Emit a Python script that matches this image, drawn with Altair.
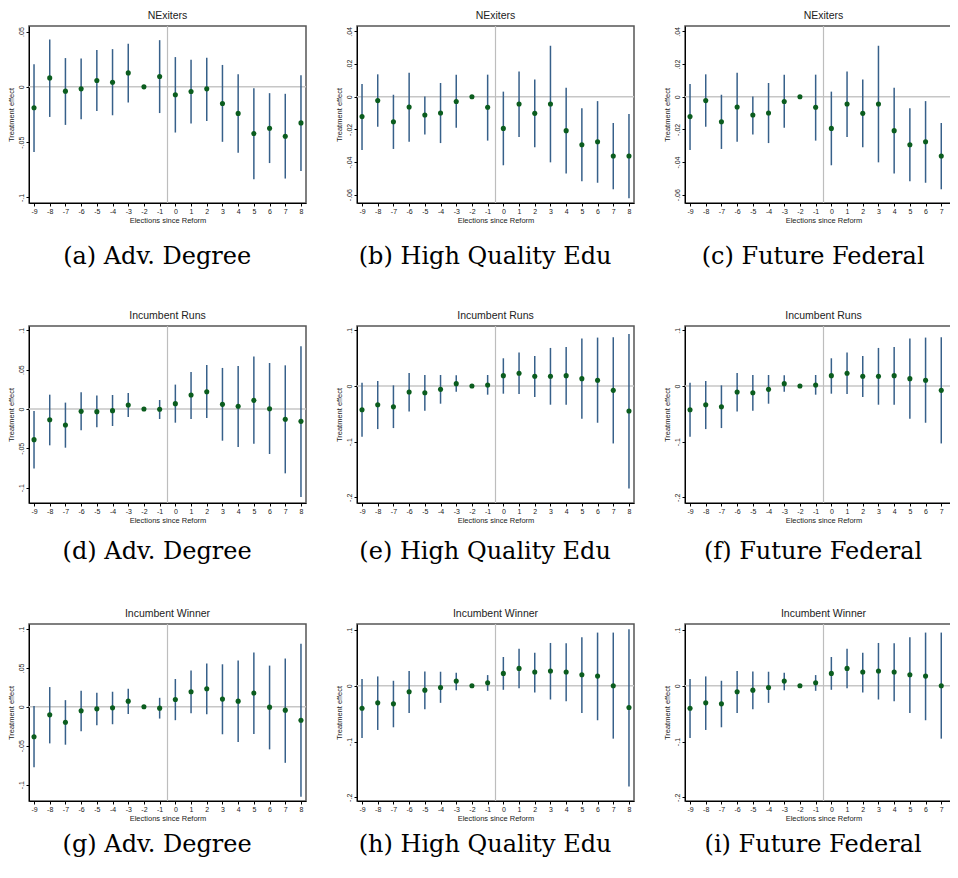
import altair as alt
import pandas as pd

elections = list(range(-9, 9))

row_titles = ["NExiters", "Incumbent Runs", "Incumbent Winner"]
captions = [
    "(a) Adv. Degree", "(b) High Quality Edu", "(c) Future Federal",
    "(d) Adv. Degree", "(e) High Quality Edu", "(f) Future Federal",
    "(g) Adv. Degree", "(h) High Quality Edu", "(i) Future Federal",
]

# NExiters - Adv. Degree
nex_adv_est = [-0.0189, 0.0081, -0.0039, -0.0018, 0.0057, 0.0042, 0.0126, 0.0, 0.0093,
               -0.0072, -0.0042, -0.0018, -0.015, -0.024, -0.0422, -0.0374, -0.0446, -0.0326]
nex_adv_lo = [-0.059, -0.0272, -0.0344, -0.0293, -0.0219, -0.0257, -0.0141, None, -0.0237,
              -0.0413, -0.0332, -0.0308, -0.0497, -0.0596, -0.0835, -0.0689, -0.0829, -0.076]
nex_adv_hi = [0.0204, 0.0428, 0.026, 0.0257, 0.0332, 0.0341, 0.0389, None, 0.0422,
              0.0269, 0.0246, 0.0263, 0.0198, 0.0114, -0.0012, -0.0057, -0.0063, 0.0105]

# NExiters - High Quality Edu / Future Federal
nex_hq_est = [-0.0122, -0.0024, -0.0153, -0.0063, -0.0112, -0.01, -0.0029, 0.0, -0.0065,
              -0.0194, -0.0045, -0.0102, -0.0045, -0.0208, -0.0294, -0.0276, -0.0363, -0.0363]
nex_hq_lo = [-0.0327, -0.0184, -0.032, -0.0276, -0.0231, -0.0284, -0.019, None, -0.0269,
             -0.042, -0.0247, -0.031, -0.0402, -0.0471, -0.0518, -0.0527, -0.0567, -0.0622]
nex_hq_hi = [0.0078, 0.0137, 0.0012, 0.0147, 0.0002, 0.0084, 0.0135, None, 0.0135,
             0.0031, 0.0155, 0.0106, 0.0312, 0.0055, -0.0071, -0.0027, -0.0161, -0.0106]

# Incumbent Runs - Adv. Degree
runs_adv_est = [-0.039, -0.0136, -0.0203, -0.003, -0.0034, -0.0021, 0.0051, 0.0, -0.0004,
                0.0068, 0.0178, 0.022, 0.0059, 0.0034, 0.011, 0.0004, -0.0131, -0.0157]
runs_adv_lo = [-0.0755, -0.0462, -0.0492, -0.0271, -0.0233, -0.0216, -0.0102, None, -0.0127,
               -0.0174, -0.0127, -0.0114, -0.0403, -0.0483, -0.0441, -0.0572, -0.0818, -0.1119]
runs_adv_hi = [-0.0025, 0.0182, 0.0081, 0.0212, 0.017, 0.0178, 0.0203, None, 0.0114,
               0.031, 0.0471, 0.056, 0.0522, 0.0547, 0.0666, 0.0585, 0.0555, 0.0797]

# Incumbent Runs - High Quality Edu / Future Federal
runs_hq_est = [-0.0426, -0.0336, -0.0372, -0.0108, -0.012, -0.006, 0.0042, 0.0, 0.0018,
               0.0186, 0.0228, 0.0174, 0.0174, 0.0186, 0.0132, 0.0102, -0.0078, -0.045]
runs_hq_lo = [-0.0912, -0.0774, -0.0756, -0.0456, -0.0444, -0.0318, -0.0102, None, -0.0156,
              -0.0138, -0.0144, -0.0198, -0.0336, -0.0336, -0.0588, -0.066, -0.1032, -0.1842]
runs_hq_hi = [0.006, 0.009, 0.0012, 0.0234, 0.0198, 0.0198, 0.0192, None, 0.0198,
              0.0498, 0.06, 0.054, 0.0684, 0.0702, 0.0852, 0.087, 0.0876, 0.0936]

# Incumbent Winner - Adv. Degree
win_adv_est = [-0.0384, -0.0103, -0.0198, -0.0052, -0.0026, -0.0013, 0.0073, 0.0, -0.0017,
               0.0095, 0.0194, 0.0233, 0.0099, 0.0073, 0.0177, -0.0004, -0.0043, -0.0172]
win_adv_lo = [-0.0776, -0.047, -0.0487, -0.0315, -0.0237, -0.0224, -0.0091, None, -0.0151,
              -0.0172, -0.0082, -0.0095, -0.0353, -0.0453, -0.0349, -0.0547, -0.072, -0.1155]
win_adv_hi = [0.0009, 0.0254, 0.0086, 0.0207, 0.0181, 0.0194, 0.0233, None, 0.0116,
              0.0358, 0.0466, 0.0556, 0.0547, 0.0595, 0.0698, 0.053, 0.0621, 0.081]

# Incumbent Winner - High Quality Edu / Future Federal
win_hq_est = [-0.0402, -0.0306, -0.0324, -0.0108, -0.0078, -0.003, 0.0084, 0.0, 0.0054,
              0.0222, 0.0312, 0.0246, 0.0264, 0.0246, 0.0198, 0.0174, 0.0, -0.039]
win_hq_lo = [-0.0936, -0.0792, -0.0744, -0.0486, -0.042, -0.0306, -0.0078, None, -0.009,
             -0.0072, -0.0042, -0.012, -0.0246, -0.0276, -0.0486, -0.0618, -0.0948, -0.1806]
win_hq_hi = [0.012, 0.0168, 0.009, 0.0264, 0.0258, 0.0252, 0.0234, None, 0.0192,
             0.0516, 0.0666, 0.0594, 0.0768, 0.0762, 0.087, 0.0954, 0.0954, 0.1014]

ticks_nex_adv = [-0.1, -0.05, 0, 0.05]
ticks_nex_hq = [-0.06, -0.04, -0.02, 0, 0.02, 0.04]
ticks_inc_adv = [-0.1, -0.05, 0, 0.05, 0.1]
ticks_inc_hq = [-0.2, -0.1, 0, 0.1]

dom_nex_adv = [-0.105, 0.055]
dom_nex_hq = [-0.0651, 0.0433]
dom_runs_adv = [-0.1195, 0.1055]
dom_runs_hq = [-0.2102, 0.1078]
dom_win_adv = [-0.1211, 0.1065]
dom_win_hq = [-0.2066, 0.1108]

PW, PH = 277, 177
CI_COLOR = "#37608a"
PT_COLOR = "#0b5d1e"
CAPTION_OFFSETS = [20, 15, 10]


def panel(title, caption, est, lo, hi, ydom, yticks, cap_offset):
    df = pd.DataFrame({"x": elections, "est": est, "lo": lo, "hi": hi})
    xs = alt.Scale(domain=[-9.32, 8.32], nice=False, zero=False)
    ys = alt.Scale(domain=ydom, nice=False, zero=False)
    xaxis = alt.Axis(values=elections, title="Elections since Reform", labelAngle=0,
                     labelExpr="replace(toString(datum.value), '\u2212', '-')")
    yaxis = alt.Axis(values=yticks, title="Treatment effect", labelAngle=270,
                     labelAlign="center", labelBaseline="bottom",
                     labelExpr="replace(toString(datum.value), '0.', '.')")
    zero = alt.Chart(pd.DataFrame({"v": [0.0]})).mark_rule(
        color="#c6c6c6", strokeWidth=1.5
    ).encode(y=alt.Y("v:Q", scale=ys, axis=yaxis))
    vline = alt.Chart(pd.DataFrame({"v": [-0.5]})).mark_rule(
        color="#bdbdbd", strokeWidth=1.2
    ).encode(x=alt.X("v:Q", scale=xs, axis=xaxis))
    ci = alt.Chart(df).transform_filter("isValid(datum.lo)").mark_rule(
        color=CI_COLOR, strokeWidth=1.5
    ).encode(
        x=alt.X("x:Q", scale=xs, axis=xaxis),
        y=alt.Y("lo:Q", scale=ys, axis=yaxis),
        y2="hi:Q",
    )
    pts = alt.Chart(df).mark_circle(size=26, color=PT_COLOR, opacity=1).encode(
        x=alt.X("x:Q", scale=xs, axis=xaxis),
        y=alt.Y("est:Q", scale=ys, axis=yaxis),
    )
    lay = alt.layer(zero, vline, ci, pts).properties(
        width=PW, height=PH, title=alt.TitleParams(title, anchor="middle")
    )
    return alt.vconcat(
        lay,
        spacing=0,
        title=alt.TitleParams(caption, orient="bottom", anchor="middle",
                              font="DejaVu Serif", fontSize=24, fontWeight="normal",
                              color="black", offset=cap_offset),
    )


specs = [
    (nex_adv_est, nex_adv_lo, nex_adv_hi, dom_nex_adv, ticks_nex_adv),
    (nex_hq_est, nex_hq_lo, nex_hq_hi, dom_nex_hq, ticks_nex_hq),
    (nex_hq_est, nex_hq_lo, nex_hq_hi, dom_nex_hq, ticks_nex_hq),
    (runs_adv_est, runs_adv_lo, runs_adv_hi, dom_runs_adv, ticks_inc_adv),
    (runs_hq_est, runs_hq_lo, runs_hq_hi, dom_runs_hq, ticks_inc_hq),
    (runs_hq_est, runs_hq_lo, runs_hq_hi, dom_runs_hq, ticks_inc_hq),
    (win_adv_est, win_adv_lo, win_adv_hi, dom_win_adv, ticks_inc_adv),
    (win_hq_est, win_hq_lo, win_hq_hi, dom_win_hq, ticks_inc_hq),
    (win_hq_est, win_hq_lo, win_hq_hi, dom_win_hq, ticks_inc_hq),
]

rows = []
for r in range(3):
    cells = []
    for c in range(3):
        i = r * 3 + c
        est, lo, hi, dom, tk = specs[i]
        cells.append(panel(row_titles[r], captions[i], est, lo, hi, dom, tk,
                           CAPTION_OFFSETS[r]))
    rows.append(alt.hconcat(*cells, spacing=26))

top_two = alt.vconcat(rows[0], rows[1], spacing=41)
chart = alt.vconcat(top_two, rows[2], spacing=44).properties(
    autosize=alt.AutoSizeParams(type="none"),
    padding={"left": 21, "top": 18, "right": 921, "bottom": 844},
).configure(
    background="white"
).configure_view(
    stroke="#555555", strokeWidth=1.5
).configure_axis(
    labelFont="Liberation Sans", labelFontSize=7, labelColor="#222222",
    titleFont="Liberation Sans", titleFontSize=7.5, titleFontWeight="normal",
    titleColor="#222222", tickSize=3, tickColor="#000000", domainColor="#000000",
    domainWidth=1, grid=False, labelPadding=1.5, titlePadding=2,
).configure_title(
    font="Liberation Sans", fontSize=10.5, fontWeight="normal", color="#222222", offset=0
)

chart.save("out.html", embed_options={"renderer": "svg", "actions": False})
